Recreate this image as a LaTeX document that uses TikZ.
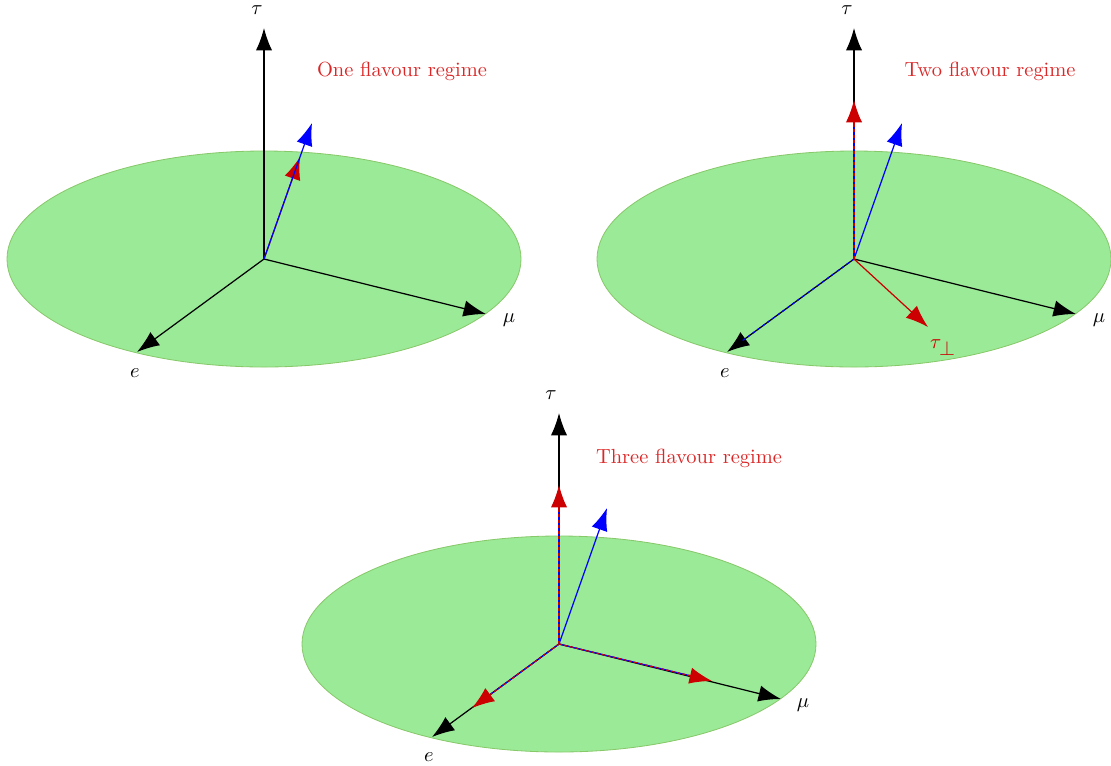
\documentclass[tikz,border=0pt]{standalone}
\usetikzlibrary{arrows.meta,calc}
\definecolor{plane}{RGB}{154,234,152}
\definecolor{planeedge}{RGB}{135,200,105}
\definecolor{vred}{RGB}{204,0,0}
\definecolor{tred}{RGB}{218,40,40}
\definecolor{vblue}{RGB}{0,0,255}
\tikzset{
 ax/.style={line width=0.6pt,-{Latex[length=11pt,width=8pt]}},
 bv/.style={ax,vblue},
 rv/.style={ax,vred},
 bl/.style={line width=0.6pt,vblue},
 rd/.style={line width=0.6pt,vred,dash pattern=on 1.5pt off 1.2pt},
 plane/.style={fill=plane,draw=planeedge,line width=0.4pt},
 lab/.style={inner sep=0pt},
 ttl/.style={tred,inner sep=0pt}}

\begin{document}
\begin{tikzpicture}[x=0.0172cm,y=-0.0172cm]
 \useasboundingbox (0,0) rectangle (1111,765);

 % one flavour
 \begin{scope}[shift={(264,259)}]
  \coordinate (o1) at (0,0);
  \coordinate (t1) at (0,-231);
  \coordinate (e1) at (-127,93);
  \coordinate (m1) at (222,55);
  \coordinate (b1) at (48,-136);
  \coordinate (r1) at (36,-102);
  \draw[plane] (o1) ellipse [x radius=257,y radius=108];
  \draw[ax] (o1) -- (t1);
  \draw[ax] (o1) -- (e1);
  \draw[ax] (o1) -- (m1);
  \draw[rv] (o1) -- (r1);
  \draw[bv] (o1) -- (b1);
  \node[lab] (tl1) at (-7,-249) {$\tau$};
  \node[lab] (el1) at (-129,114) {$e$};
  \node[lab] (ml1) at (245,61) {$\mu$};
  \node[ttl] (h1) at (138,-188) {One flavour regime};
 \end{scope}

 % two flavour
 \begin{scope}[shift={(854,259)}]
  \coordinate (o2) at (0,0);
  \coordinate (t2) at (0,-231);
  \coordinate (e2) at (-127,93);
  \coordinate (m2) at (222,55);
  \coordinate (b2) at (48,-136);
  \coordinate (r2) at (0,-159);
  \coordinate (p2) at (74,68);
  \draw[plane] (o2) ellipse [x radius=257,y radius=108];
  \draw[ax] (o2) -- (t2);
  \draw[ax] (o2) -- (e2);
  \draw[ax] (o2) -- (m2);
  \draw[bl,dash pattern=on 1.5pt off 1.5pt] (o2) -- ($(o2)!0.88!(e2)$);
  \draw[bv] (o2) -- (b2);
  \draw[bl] (o2) -- ($(o2)!0.9!(r2)$);
  \draw[rd] (o2) -- ($(o2)!0.9!(r2)$);
  \draw[rv] ($(o2)!0.85!(r2)$) -- (r2);
  \draw[rv] (o2) -- (p2);
  \node[lab] (tl2) at (-7,-249) {$\tau$};
  \node[lab] (el2) at (-129,114) {$e$};
  \node[lab] (ml2) at (245,61) {$\mu$};
  \node[lab,vred] (pl2) at (89,89) {$\tau_{\textstyle\perp}$};
  \node[ttl] (h2) at (136,-188) {Two flavour regime};
 \end{scope}

 % three flavour
 \begin{scope}[shift={(559,644)}]
  \coordinate (o3) at (0,0);
  \coordinate (t3) at (0,-231);
  \coordinate (e3) at (-127,93);
  \coordinate (m3) at (222,55);
  \coordinate (b3) at (48,-136);
  \coordinate (rt3) at (0,-159);
  \coordinate (re3) at (-87,64);
  \coordinate (rm3) at (153,37);
  \draw[plane] (o3) ellipse [x radius=257,y radius=108];
  \draw[ax] (o3) -- (t3);
  \draw[ax] (o3) -- (e3);
  \draw[ax] (o3) -- (m3);
  \draw[bv] (o3) -- (b3);
  \foreach \r in {rt3,re3,rm3} {
   \draw[bl] (o3) -- ($(o3)!0.9!(\r)$);
   \draw[rd] (o3) -- ($(o3)!0.9!(\r)$);
   \draw[rv] ($(o3)!0.85!(\r)$) -- (\r);
  }
  \node[lab] (tl3) at (-8,-249) {$\tau$};
  \node[lab] (el3) at (-130,113) {$e$};
  \node[lab] (ml3) at (244,61) {$\mu$};
  \node[ttl] (h3) at (130,-186) {Three flavour regime};
 \end{scope}
\end{tikzpicture}
\end{document}
